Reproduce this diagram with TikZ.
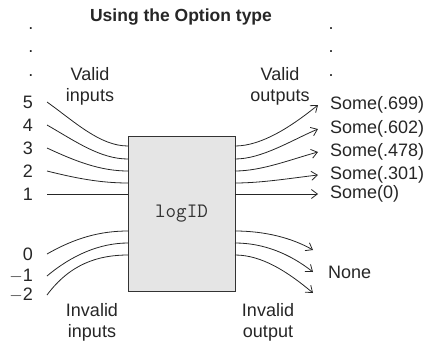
\documentclass[tikz,border=0pt]{standalone}
\usepackage{fontspec}
\setmainfont{Liberation Sans}
\usetikzlibrary{arrows.meta}

\tikzset{
  txt/.style={text=black!85, font=\fontsize{18}{21}\selectfont, align=center, inner sep=0pt},
  num/.style={txt, anchor=east, inner xsep=14pt},
  res/.style={txt, anchor=west, inner xsep=12pt},
  wire/.style={draw=black!85, line width=0.8pt},
  arr/.style={wire, -{Straight Barb[length=6pt,width=9pt]}},
  fn/.style={draw=black!80, fill=black!10, line width=0.9pt, minimum width=107pt, minimum height=155pt, inner sep=0pt, text=black!80, font=\ttfamily\fontsize{20.5}{22}\selectfont}
}

\begin{document}
\begin{tikzpicture}[x=1pt,y=-1pt]
\useasboundingbox (0,0) rectangle (427,343);
\node[txt, font=\bfseries\fontsize{17.5}{21}\selectfont] (title) at (181,17) {Using the Option type};
% the box
\node[fn] (logid) at (181.5,213.5) {logID};
% dots
\foreach \y [count=\i] in {29.5,52,76}{
  \node[txt, anchor=base] (dl\i) at (31,\y) {.};
  \node[txt, anchor=base] (dr\i) at (331,\y) {.};
}
% headings
\node[txt] (vin) at (90,86) {Valid\\inputs};
\node[txt] (vout) at (280,86) {Valid\\outputs};
\node[txt] (iin) at (92,322) {Invalid\\inputs};
\node[txt] (iout) at (268,322) {Invalid\\output};
% input values
\node[num] (n5) at (47,102) {5};
\node[num] (n4) at (47,125) {4};
\node[num] (n3) at (47,148) {3};
\node[num] (n2) at (47,171) {2};
\node[num] (n1) at (47,194) {1};
\node[num] (n0) at (47,254) {0};
\node[num] (nm1) at (47,276) {$-$1};
\node[num] (nm2) at (47,295) {$-$2};
% results
\node[res] (s5) at (318,105) {Some(.699)};
\node[res] (s4) at (318,129) {Some(.602)};
\node[res] (s3) at (318,152) {Some(.478)};
\node[res] (s2) at (318,175) {Some(.301)};
\node[res] (s1) at (318,194) {Some(0)};
\node[res, inner xsep=15pt] (none) at (313,272) {None};
\coordinate (z1) at (313,250);
\coordinate (z3) at (313,293);
% ports on the box
\coordinate (p5) at (128,146);
\coordinate (p4) at (128,159);
\coordinate (p3) at (128,171);
\coordinate (p2) at (128,183);
\coordinate (p0) at (128,231);
\coordinate (pm1) at (128,243);
\coordinate (pm2) at (128,255);
\coordinate (q5) at (235,146);
\coordinate (q4) at (235,159);
\coordinate (q3) at (235,171);
\coordinate (q2) at (235,183);
\coordinate (q0) at (235,231);
\coordinate (qm1) at (235,243);
\coordinate (qm2) at (235,255);
%     valid inputs
\draw[wire] (n5.east) .. controls (75,122) and (100,146) .. (p5);
\draw[wire] (n4.east) .. controls (75,141) and (100,159) .. (p4);
\draw[wire] (n3.east) .. controls (75,161) and (100,171) .. (p3);
\draw[wire] (n2.east) .. controls (75,178) and (100,183) .. (p2);
\draw[wire] (n1.east) -- (n1.east -| logid.west);
%     invalid inputs
\draw[wire] (n0.east) .. controls (75,238) and (100,231) .. (p0);
\draw[wire] (nm1.east) .. controls (72,255) and (100,243) .. (pm1);
\draw[wire] (nm2.east) .. controls (70,264) and (98,255) .. (pm2);
%     valid outputs
\draw[arr] (q5) .. controls (262,146) and (292,126) .. (s5.west);
\draw[arr] (q4) .. controls (262,159) and (292,140) .. (s4.west);
\draw[arr] (q3) .. controls (262,171) and (292,159) .. (s3.west);
\draw[arr] (q2) .. controls (262,183) and (292,178) .. (s2.west);
\draw[arr] (logid.east |- s1.west) -- (s1.west);
%     invalid output
\draw[arr] (q0) .. controls (265,231) and (292,238) .. (z1);
\draw[arr] (qm1) .. controls (264,243) and (290,254) .. (none.west);
\draw[arr] (qm2) .. controls (262,255) and (288,272) .. (z3);
\end{tikzpicture}
\end{document}
